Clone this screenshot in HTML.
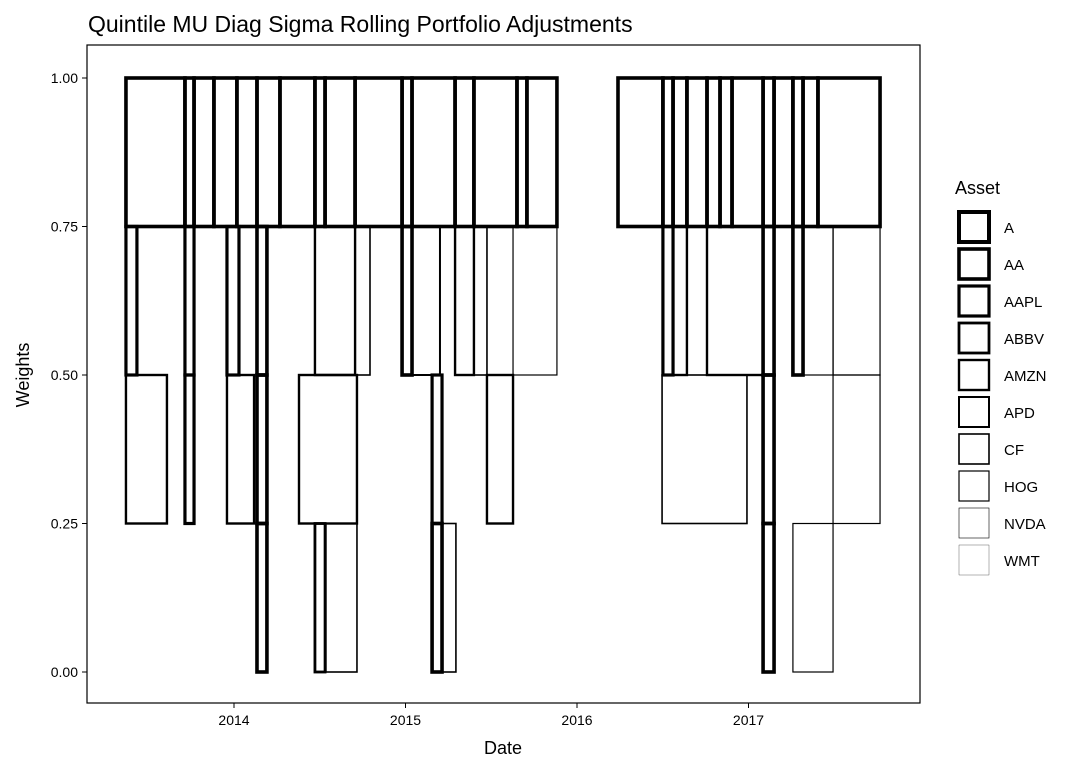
<!DOCTYPE html>
<html><head><meta charset="utf-8"><style>
body{margin:0;background:#fff;}
svg text{font-family:"Liberation Sans",Arial,sans-serif;fill:#000;}
</style></head><body>
<svg width="1080" height="771" viewBox="0 0 1080 771">
<text x="88" y="32" font-size="23">Quintile MU Diag Sigma Rolling Portfolio Adjustments</text>
<rect x="87" y="45" width="833" height="658" fill="#fff" stroke="#000" stroke-width="1.2"/>
<g id="marks"></g>
<g id="axes"></g>
<text x="503" y="754" font-size="18" text-anchor="middle">Date</text>
<text x="0" y="0" font-size="18" text-anchor="middle" transform="translate(29,375) rotate(-90)">Weights</text>
<text x="955" y="194" font-size="18">Asset</text>
<g id="legend"></g>
</svg>
<script>
const assets=["A","AA","AAPL","ABBV","AMZN","APD","CF","HOG","NVDA","WMT"];
const assetWidths=[4,3.6,3.2,2.8,2.4,2,1.6,1.2,0.6,0.3];
const yTicks=[0,0.25,0.5,0.75,1];
const yTickLabels=["0.00","0.25","0.50","0.75","1.00"];
const xTicks=[2014,2015,2016,2017];
// boxes: start year, end year, base weight, asset index (each holds 0.25)
const boxStart=[2013.370,2013.714,2013.767,2013.883,2014.017,2014.134,2014.268,2014.472,2014.531,2014.706,2014.980,2015.038,2015.289,2015.399,2015.650,2015.708,2016.239,2016.501,2016.560,2016.641,2016.758,2016.834,2016.904,2017.085,2017.149,2017.259,2017.318,2017.405,
2013.370,2013.714,2013.959,2014.134,2014.472,2014.706,2014.980,2015.038,2015.289,2015.399,2015.627,2016.501,2016.560,2016.758,2017.085,2017.259,2017.318,2017.493,
2013.370,2013.714,2013.959,2014.134,2014.379,2015.155,2015.475,2016.496,2017.085,2017.493,
2014.134,2014.472,2014.536,2015.155,2015.213,2017.085,2017.259];
const boxEnd=[2013.714,2013.767,2013.883,2014.017,2014.134,2014.268,2014.472,2014.531,2014.706,2014.980,2015.038,2015.289,2015.399,2015.650,2015.708,2015.883,2016.501,2016.560,2016.641,2016.758,2016.834,2016.904,2017.085,2017.149,2017.259,2017.318,2017.405,2017.767,
2013.434,2013.767,2014.029,2014.192,2014.706,2014.793,2015.038,2015.201,2015.399,2015.475,2015.883,2016.560,2016.641,2017.085,2017.149,2017.318,2017.493,2017.767,
2013.609,2013.767,2014.117,2014.192,2014.717,2015.213,2015.627,2016.991,2017.149,2017.767,
2014.192,2014.531,2014.717,2015.213,2015.294,2017.149,2017.493];
const boxBase=[0.75,0.75,0.75,0.75,0.75,0.75,0.75,0.75,0.75,0.75,0.75,0.75,0.75,0.75,0.75,0.75,0.75,0.75,0.75,0.75,0.75,0.75,0.75,0.75,0.75,0.75,0.75,0.75,
0.5,0.5,0.5,0.5,0.5,0.5,0.5,0.5,0.5,0.5,0.5,0.5,0.5,0.5,0.5,0.5,0.5,0.5,
0.25,0.25,0.25,0.25,0.25,0.25,0.25,0.25,0.25,0.25,
0,0,0,0,0,0,0];
const boxAsset=[1,1,1,1,1,1,1,1,1,1,1,1,1,1,1,1,1,1,1,1,1,1,1,1,1,1,1,1,
2,2,2,1,4,6,1,5,4,6,7,2,4,4,1,1,7,7,
4,2,4,1,4,2,4,6,1,7,
1,3,6,1,6,1,7];
const boxWeight=0.25;
const NS="http://www.w3.org/2000/svg";
function xs(v){return 234+(v-2014)*171.5;}
function ys(v){return 672-v*594;}
const marks=document.getElementById('marks');
for(let i=0;i<boxStart.length;i++){
  const r=document.createElementNS(NS,'rect');
  
  
  const x0=xs(boxStart[i]),x1=xs(boxEnd[i]);
  r.setAttribute('x',x0);r.setAttribute('width',x1-x0);
  r.setAttribute('y',ys(boxBase[i]+boxWeight));r.setAttribute('height',ys(boxBase[i])-ys(boxBase[i]+boxWeight));
  r.setAttribute('fill','none');r.setAttribute('stroke','#000');
  r.setAttribute('stroke-width',assetWidths[boxAsset[i]]);
  marks.appendChild(r);
}
const axes=document.getElementById('axes');
yTicks.forEach((v,i)=>{
  const l=document.createElementNS(NS,'line');
  
  
  l.setAttribute('x1',82);l.setAttribute('x2',87);l.setAttribute('y1',ys(v));l.setAttribute('y2',ys(v));l.setAttribute('stroke','#000');
  axes.appendChild(l);
  const t=document.createElementNS(NS,'text');
  
  
  t.setAttribute('x',78);t.setAttribute('y',ys(v)+5);t.setAttribute('text-anchor','end');t.setAttribute('font-size','14');
  t.textContent=yTickLabels[i];axes.appendChild(t);
});
xTicks.forEach(v=>{
  const l=document.createElementNS(NS,'line');
  
  
  l.setAttribute('x1',xs(v));l.setAttribute('x2',xs(v));l.setAttribute('y1',703);l.setAttribute('y2',708);l.setAttribute('stroke','#000');
  axes.appendChild(l);
  const t=document.createElementNS(NS,'text');
  
  
  t.setAttribute('x',xs(v));t.setAttribute('y',725);t.setAttribute('text-anchor','middle');t.setAttribute('font-size','14');
  t.textContent=v;axes.appendChild(t);
});
const lg=document.getElementById('legend');
assets.forEach((a,i)=>{
  const cy=227+i*37;
  const r=document.createElementNS(NS,'rect');
  
  
  r.setAttribute('x',959);r.setAttribute('y',cy-15);r.setAttribute('width',30);r.setAttribute('height',30);
  r.setAttribute('fill','none');r.setAttribute('stroke','#000');r.setAttribute('stroke-width',assetWidths[i]);
  lg.appendChild(r);
  const t=document.createElementNS(NS,'text');
  
  
  t.setAttribute('x',1004);t.setAttribute('y',cy+6);t.setAttribute('font-size','15');
  t.textContent=a;lg.appendChild(t);
});
</script>
</body></html>
